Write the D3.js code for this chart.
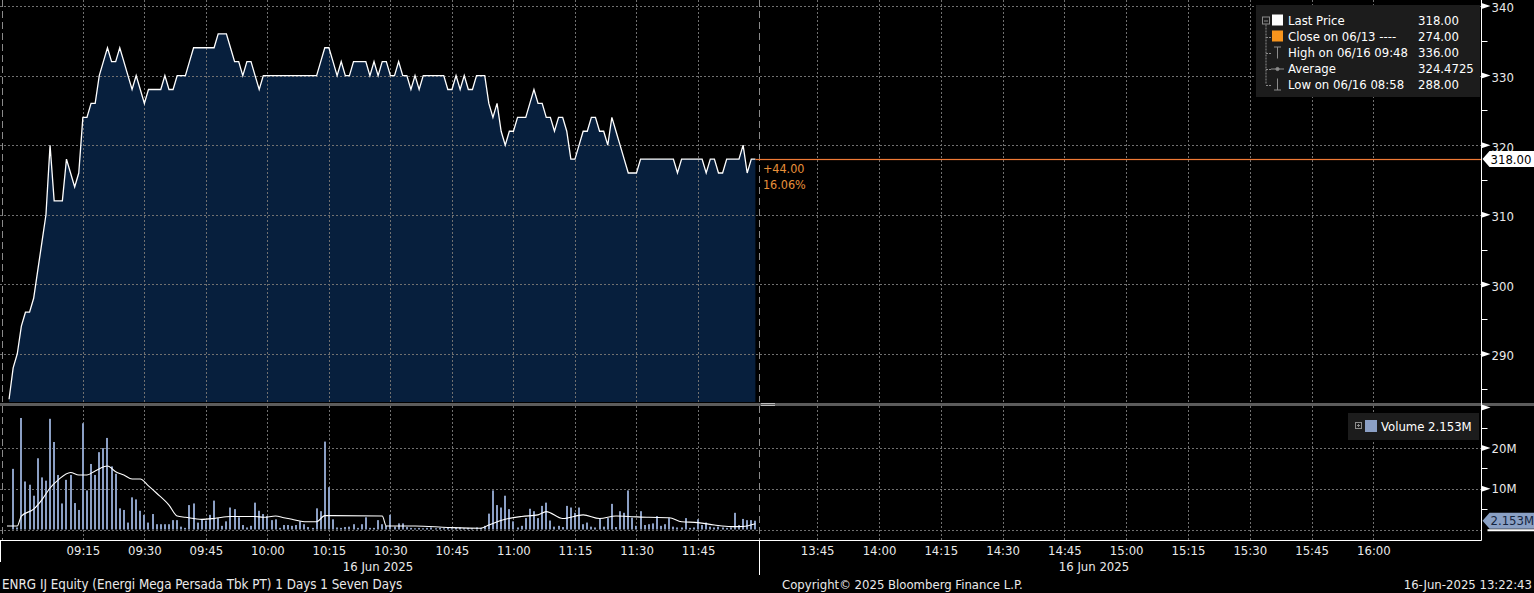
<!DOCTYPE html>
<html><head><meta charset="utf-8">
<script src="https://cdn.jsdelivr.net/npm/d3@7"></script>
<style>
html,body{margin:0;padding:0;background:#000;overflow:hidden}
svg{display:block}
text{font-family:"DejaVu Sans Condensed","DejaVu Sans",sans-serif;}
</style></head><body>
<svg id="c" width="1534" height="593"></svg>
<script>
// ---------------- DATA ----------------
const priceStart = "08:57";   // one price per minute from here
const prices = [
  283.5, 288, 290, 294, 296, 296, 298, 302, 306, 310,
  320, 312, 312, 312, 318, 316, 314, 316, 324, 324,
  326, 326, 330, 332, 334, 332, 332, 334, 332, 330,
  328, 330, 328, 326, 328, 328, 328, 328, 330, 328,
  328, 330, 330, 330, 332, 334, 334, 334, 334, 334,
  334, 336, 336, 336, 334, 332, 332, 330, 332, 332,
  330, 328, 330, 330, 330, 330, 330, 330, 330, 330,
  330, 330, 330, 330, 330, 330, 332, 334, 334, 332,
  330, 332, 330, 330, 332, 332, 332, 332, 330, 332,
  330, 332, 332, 330, 330, 332, 330, 330, 328, 330,
  328, 330, 330, 330, 330, 330, 330, 328, 328, 330,
  328, 330, 328, 328, 330, 330, 330, 326, 324, 326,
  322, 320, 322, 322, 324, 324, 324, 326, 328, 326,
  326, 324, 324, 322, 324, 324, 322, 318, 318, 320,
  322, 322, 324, 324, 322, 322, 320, 324, 322, 320,
  318, 316, 316, 316, 318, 318, 318, 318, 318, 318,
  318, 318, 318, 316, 318, 318, 318, 318, 318, 318,
  316, 318, 318, 316, 316, 318, 318, 318, 318, 320,
  316, 318, 318
];
const volumeStart = "08:58";  // one bar per minute (millions)
const volumes = [
  14.9, 0.5, 27.4, 11.8, 11.0, 8.3, 17.5, 12.8, 12.0, 27.2,
  21.5, 13.4, 6.4, 12.2, 13.4, 6.5, 4.8, 26.1, 9.6, 16.1,
  13.4, 19.0, 20.0, 22.5, 15.5, 13.7, 5.2, 4.8, 1.7, 7.9,
  7.4, 4.6, 3.6, 1.7, 3.8, 1.3, 1.3, 1.3, 1.3, 2.3,
  2.3, 0.7, 0.4, 6.0, 6.4, 1.7, 2.5, 2.2, 3.6, 7.1,
  2.8, 0.9, 2.0, 5.4, 5.0, 3.0, 1.1, 0.5, 0.9, 6.6,
  4.6, 3.8, 3.3, 2.3, 2.5, 0.4, 1.1, 1.1, 0.9, 1.1,
  2.0, 1.3, 0.6, 0.4, 5.2, 4.5, 21.6, 10.4, 2.5, 0.5,
  0.4, 0.6, 0.7, 1.3, 0.4, 1.3, 3.0, 0.4, 0.4, 2.3,
  1.3, 0.9, 3.6, 0.7, 1.5, 1.5, 0.6, 0.4, 0.3, 0.4,
  0.3, 0.4, 0.5, 0.3, 0.4, 0.3, 0.4, 0.3, 0.4, 0.5,
  0.3, 0.4, 0.3, 0.5, 0.4, 0.9, 3.9, 9.6, 6.0, 5.4,
  8.3, 5.0, 2.0, 0.5, 0.9, 2.8, 5.1, 4.5, 2.8, 5.8,
  6.6, 2.2, 0.7, 0.9, 0.6, 5.8, 5.4, 4.1, 5.4, 1.3,
  1.7, 0.7, 0.5, 2.6, 0.7, 2.8, 6.3, 0.6, 4.5, 4.1,
  9.6, 2.9, 0.9, 4.5, 1.1, 1.3, 1.5, 3.3, 0.9, 1.3,
  2.8, 0.7, 0.5, 0.5, 2.8, 0.4, 0.5, 2.5, 1.1, 1.7,
  0.7, 0.5, 0.7, 0.5, 0.4, 0.5, 4.1, 1.1, 2.6, 2.3,
  2.3, 2.153
];
const volumeAvgTimes = ["08:56:30","08:59","09:00","09:03","09:05","09:07","09:09","09:12","09:14","09:16","09:18","09:21","09:23","09:25","09:27","09:29","09:31","09:33","09:36","09:38","09:40","09:44","09:47","09:51","09:57","09:59","10:02","10:04","10:06","10:09","10:12","10:14","10:16","10:28","10:29","10:36","10:44","10:52","10:54","10:58","11:02","11:06","11:08","11:12","11:17","11:21","11:25","11:28","11:33","11:38","11:41","11:45","11:49","11:53","11:56","11:59"];
const volumeAvg = [0.85,0.85,3.3,5.0,7.3,10.2,12.2,14.0,13.4,13.4,14.4,15.6,14.2,13.4,12.4,12.4,10.7,8.9,6.0,3.3,3.0,2.5,2.7,3.2,3.2,3.0,3.3,2.9,2.5,1.9,1.9,3.4,3.4,3.3,0.85,0.85,0.5,0.3,1.1,2.5,3.2,3.6,4.4,2.7,3.6,2.7,3.3,3.2,3.0,2.9,1.9,1.7,1.1,0.7,0.75,1.4];
const morningTicks = ["09:15","09:30","09:45","10:00","10:15","10:30","10:45","11:00","11:15","11:30","11:45"];
const afternoonTicks = ["13:45","14:00","14:15","14:30","14:45","15:00","15:15","15:30","15:45","16:00"];
const priceTicks = [290,300,310,320,330,340];
const priceMinorTicks = [285,295,305,315,325,335];
const volumeTicks = [10,20];
const volumeMinorTicks = [5,15,25];
const lastPrice = 318.00;
const lastVolume = 2.153;
const legendLabels = ["Last Price","Close on 06/13 ----","High on 06/16 09:48","Average","Low on 06/16 08:58"];
const legendValues = ["318.00","274.00","336.00","324.4725","288.00"];
const changeTexts = ["+44.00","16.06%"];
const dateLabel = "16 Jun 2025";
const footerLeft = "ENRG IJ Equity (Energi Mega Persada Tbk PT) 1 Days 1 Seven Days";
const footerMid = "Copyright\u00A9 2025 Bloomberg Finance L.P.";
const footerRight = "16-Jun-2025 13:22:43";

// ---------------- HELPERS ----------------
const t = s => new Date(`2025-06-16T${s.length===5 ? s+":00" : s}`);
const svg = d3.select("#c");
const W = 1534, H = 593, AX = 1481.5;
const PB = 402, VT = 406, XA = 540.5;

const x = d3.scaleTime()
  .domain([t("08:56:30"), t("12:00"), t("13:31"), t("16:26:15")])
  .range([7, 759.5, 759.5, AX]);
const y = d3.scaleLinear().domain([283.1, 340.86]).range([PB, 0]);
const vy = d3.scaleLinear().domain([0, 30]).range([529.5, 407.4]);

const priceData = prices.map((p,i)=>({t:d3.timeMinute.offset(t(priceStart), i), v:p}));
const volData = volumes.map((v,i)=>({t:d3.timeMinute.offset(t(volumeStart), i), v}));
const avgData = volumeAvg.map((v,i)=>({t:t(volumeAvgTimes[i]), v}));

svg.append("rect").attr("width",W).attr("height",H).attr("fill","#000");

// ---------------- AREA ----------------
svg.append("path").datum(priceData)
  .attr("fill","#071f3d")
  .attr("d", d3.area().x(d=>x(d.t)).y0(PB).y1(d=>y(d.v)));

// ---------------- GRID ----------------
const grid = svg.append("g").attr("stroke","#707070").attr("stroke-width",1).attr("stroke-dasharray","2,2").attr("fill","none");
priceTicks.forEach(v=>{
  const yy = Math.round(y(v))+0.5;
  grid.append("line").attr("x1",0).attr("x2",AX).attr("y1",yy).attr("y2",yy);
});
[0, ...volumeTicks].forEach(v=>{
  const yy = Math.round(vy(v))+0.5;
  grid.append("line").attr("x1",0).attr("x2",AX).attr("y1",yy).attr("y2",yy);
});
const allTicks = [...morningTicks, ...afternoonTicks].map(t);
allTicks.forEach(d=>{
  const xx = Math.round(x(d))+0.5;
  grid.append("line").attr("x1",xx).attr("x2",xx).attr("y1",0).attr("y2",PB);
  grid.append("line").attr("x1",xx).attr("x2",xx).attr("y1",VT).attr("y2",XA);
});
// session dashed lines
const dash = svg.append("g").attr("stroke","#8a8a8a").attr("stroke-dasharray","7,4");
[2.5, Math.round(x(t("12:00")))-0.5].forEach(xx=>{
  dash.append("line").attr("x1",xx).attr("x2",xx).attr("y1",0).attr("y2",PB);
  dash.append("line").attr("x1",xx).attr("x2",xx).attr("y1",VT).attr("y2",XA);
});

// ---------------- PRICE LINE ----------------
svg.append("path").datum(priceData)
  .attr("fill","none").attr("stroke","#ffffff").attr("stroke-width",1.3)
  .attr("stroke-linejoin","miter")
  .attr("d", d3.line().x(d=>x(d.t)).y(d=>y(d.v)));

// last price line
const lastX = x(priceData[priceData.length-1].t);
const lastY = Math.round(y(lastPrice)) + 0.5;
svg.append("rect").attr("x",lastX).attr("y",lastY-0.6).attr("width",AX-lastX).attr("height",1.2)
  .attr("fill","#f07a36");
svg.selectAll("text.chg").data(changeTexts).join("text").attr("class","chg")
  .attr("x",lastX+7.5).attr("y",(d,i)=>y(lastPrice)+14+i*15.5)
  .attr("fill","#e8913a").attr("font-size",12.5).text(d=>d);

// ---------------- SEPARATOR ----------------
svg.append("rect").attr("x",0).attr("y",PB+1).attr("width",W).attr("height",3).attr("fill","#5c5c5c");
svg.append("line").attr("x1",761).attr("x2",775).attr("y1",PB+1.5).attr("y2",PB+1.5).attr("stroke","#bbb");
svg.append("line").attr("x1",761).attr("x2",775).attr("y1",PB+3.5).attr("y2",PB+3.5).attr("stroke","#bbb");

// ---------------- VOLUME ----------------
svg.append("g").selectAll("rect").data(volData).join("rect")
  .attr("x",d=>Math.round(x(d.t))-1).attr("width",2)
  .attr("y",d=>vy(d.v)).attr("height",d=>vy(0)-vy(d.v))
  .attr("fill","#8b9fc4");
svg.append("path").datum(avgData)
  .attr("fill","none").attr("stroke","#ffffff").attr("stroke-width",1.1)
  .attr("d", d3.line().x(d=>x(d.t)).y(d=>vy(d.v)).curve(d3.curveMonotoneX));

// ---------------- AXES ----------------
svg.append("line").attr("x1",0).attr("x2",AX).attr("y1",XA).attr("y2",XA).attr("stroke","#fff");
svg.append("line").attr("x1",0.5).attr("x2",0.5).attr("y1",XA).attr("y2",562).attr("stroke","#fff");
svg.append("line").attr("x1",Math.round(x(t("12:00")))-0.5).attr("x2",Math.round(x(t("12:00")))-0.5).attr("y1",XA).attr("y2",575).attr("stroke","#fff");

const xAxis = svg.append("g").attr("transform",`translate(0,${XA})`)
  .call(d3.axisBottom(x).tickValues(allTicks).tickFormat(d3.timeFormat("%H:%M")).tickSize(0).tickPadding(5));
xAxis.select(".domain").remove();
xAxis.selectAll("text").attr("fill","#eaeaea").attr("font-size",13).attr("font-family",null);

svg.selectAll("text.date").data([378, 1094]).join("text").attr("class","date")
  .attr("x",d=>d).attr("y",571).attr("text-anchor","middle")
  .attr("fill","#eaeaea").attr("font-size",13).text(dateLabel);

// right axis
svg.append("line").attr("x1",AX).attr("x2",AX).attr("y1",0).attr("y2",XA).attr("stroke","#fff");
const yAxis = svg.append("g").attr("transform",`translate(${AX},0)`)
  .call(d3.axisRight(y).tickValues(priceTicks).tickSize(0).tickPadding(10).tickFormat(d3.format("d")));
yAxis.select(".domain").remove();
yAxis.selectAll("text").attr("fill","#eaeaea").attr("font-size",13).attr("font-family",null).attr("dy","0.45em");
const tri = yy => `M${AX},${yy-3}L${AX+9},${yy}L${AX},${yy+3}Z`;
svg.append("g").selectAll("path").data(priceTicks).join("path").attr("d",d=>tri(y(d))).attr("fill","#fff");
svg.append("g").selectAll("line").data(priceMinorTicks).join("line")
  .attr("x1",AX).attr("x2",AX+6).attr("y1",d=>Math.round(y(d))+0.5).attr("y2",d=>Math.round(y(d))+0.5).attr("stroke","#fff");

const vAxis = svg.append("g").attr("transform",`translate(${AX},0)`)
  .call(d3.axisRight(vy).tickValues(volumeTicks).tickSize(0).tickPadding(10).tickFormat(d=>d+"M"));
vAxis.select(".domain").remove();
vAxis.selectAll("text").attr("fill","#eaeaea").attr("font-size",13).attr("font-family",null);
svg.append("g").selectAll("path").data([...volumeTicks,30]).join("path").attr("d",d=>tri(vy(d))).attr("fill","#fff");
svg.append("g").selectAll("line").data(volumeMinorTicks).join("line")
  .attr("x1",AX).attr("x2",AX+6).attr("y1",d=>Math.round(vy(d))+0.5).attr("y2",d=>Math.round(vy(d))+0.5).attr("stroke","#fff");

// value tags
const tag = (yy, fill, txt, tfill) => {
  const g = svg.append("g");
  g.append("path").attr("d",`M${AX+1},${yy}L${AX+8},${yy-8}L${W},${yy-8}L${W},${yy+8}L${AX+8},${yy+8}Z`).attr("fill",fill);
  g.append("text").attr("x",AX+9).attr("y",yy+4.5).attr("fill",tfill).attr("font-size",13).text(txt);
  return g;
};
tag(y(lastPrice), "#ffffff", d3.format(".2f")(lastPrice), "#000");
tag(vy(lastVolume), "#8aa0c4", d3.format(".3f")(lastVolume)+"M", "#142440");
svg.append("line").attr("x1",AX+6).attr("x2",W).attr("y1",vy(lastVolume)+9.5).attr("y2",vy(lastVolume)+9.5).attr("stroke","#fff").attr("stroke-width",2);

// ---------------- LEGENDS ----------------
const lg = svg.append("g");
lg.append("rect").attr("x",1256).attr("y",5).attr("width",224).attr("height",92).attr("fill","#1c1c1c");
const rowY = i => 20.5 + i*16;
lg.selectAll("text.lab").data(legendLabels).join("text").attr("class","lab")
  .attr("x",1288).attr("y",(d,i)=>rowY(i)+4.5).attr("fill","#fff").attr("font-size",13).text(d=>d);
lg.selectAll("text.val").data(legendValues).join("text").attr("class","val")
  .attr("x",1418).attr("y",(d,i)=>rowY(i)+4.5).attr("fill","#fff").attr("font-size",13).text(d=>d);
const ic = lg.append("g").attr("stroke","#8c8c8c").attr("fill","none");
ic.append("rect").attr("x",1262.5).attr("y",rowY(0)-3.5).attr("width",7).attr("height",7);
ic.append("line").attr("x1",1264).attr("x2",1268).attr("y1",rowY(0)+0.5).attr("y2",rowY(0)+0.5);
ic.append("line").attr("x1",1266).attr("x2",1266).attr("y1",rowY(0)+4).attr("y2",rowY(4)).attr("stroke-dasharray","2,1");
[1,2,3,4].forEach(i=>ic.append("line").attr("x1",1266).attr("x2",1271).attr("y1",Math.round(rowY(i))+0.5).attr("y2",Math.round(rowY(i))+0.5).attr("stroke-dasharray","2,1"));
lg.append("rect").attr("x",1272).attr("y",rowY(0)-6).attr("width",11).attr("height",11).attr("fill","#fff");
lg.append("rect").attr("x",1272).attr("y",rowY(1)-6).attr("width",11).attr("height",11).attr("fill","#f7941d");
ic.append("path").attr("d",`M1274,${rowY(2)-5.5}H1281M1277.5,${rowY(2)-5.5}V${rowY(2)+6}`);
ic.append("path").attr("d",`M1271,${rowY(3)+0.5}H1284`);
ic.append("circle").attr("cx",1277.5).attr("cy",rowY(3)+0.5).attr("r",1.6).attr("fill","#8c8c8c");
ic.append("path").attr("d",`M1277.5,${rowY(4)-6}V${rowY(4)+5.5}M1274,${rowY(4)+5.5}H1281`);

const vl = svg.append("g");
vl.append("rect").attr("x",1348).attr("y",413).attr("width",131).attr("height",27).attr("fill","#1c1c1c");
vl.append("rect").attr("x",1355.5).attr("y",422.5).attr("width",6).attr("height",6).attr("fill","none").attr("stroke","#8c8c8c");
vl.append("path").attr("d","M1357,425.5H1360M1358.5,424V427").attr("stroke","#8c8c8c");
vl.append("rect").attr("x",1365).attr("y",420).attr("width",12).attr("height",12).attr("fill","#8b9fc4");
vl.append("text").attr("x",1381).attr("y",431).attr("fill","#fff").attr("font-size",13).text("Volume "+d3.format(".3f")(lastVolume)+"M");

// ---------------- FOOTER ----------------
svg.append("text").attr("x",2).attr("y",589).attr("fill","#eaeaea").attr("font-size",13.3).text(footerLeft);
svg.append("text").attr("x",782).attr("y",589).attr("fill","#eaeaea").attr("font-size",13).text(footerMid);
svg.append("text").attr("x",1532).attr("y",589).attr("text-anchor","end").attr("fill","#eaeaea").attr("font-size",13).text(footerRight);
</script>
</body></html>
